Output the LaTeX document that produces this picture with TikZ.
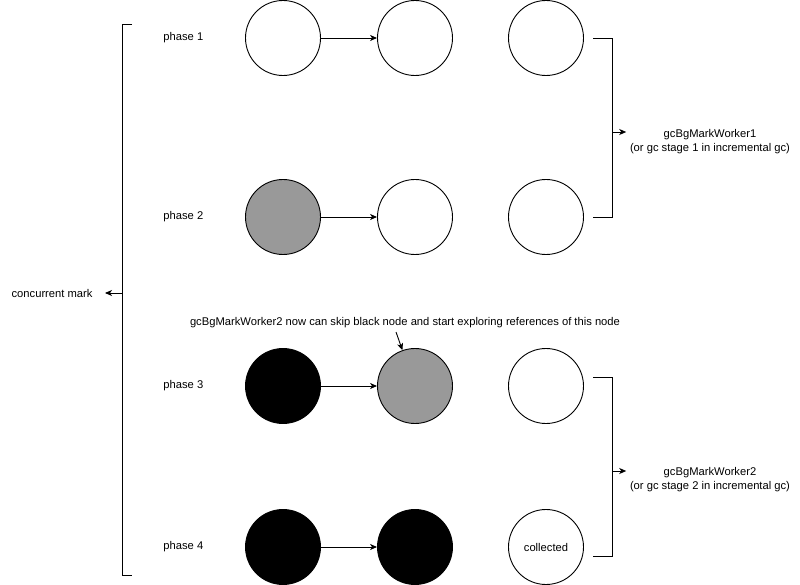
\documentclass[tikz,border=0pt]{standalone}
\usepackage{fontspec}
\setmainfont{Liberation Sans}
\usetikzlibrary{arrows.meta}
\definecolor{greyobj}{RGB}{153,153,153}

\begin{document}
\begin{tikzpicture}[
		x=1pt, y=-1pt, >={Stealth[length=7pt, width=6pt, inset=2pt]}, line width=0.9pt,
		every node/.style={font=\fontsize{11.2}{14}\selectfont},
		obj/.style={circle, draw, minimum size=75pt, inner sep=0pt},
		greyobj/.style={obj, fill=greyobj},
		blackobj/.style={obj, fill=black},
		phase/.style={anchor=west, inner sep=0pt}
	]
  \useasboundingbox (0,0) rectangle (800,585);
  % phases
  \node (ph1) [phase] at (163, 38) {phase 1};
  \node (ph2) [phase] at (163, 217) {phase 2};
  \node (ph3) [phase] at (163, 386) {phase 3};
  \node (ph4) [phase] at (163, 547) {phase 4};
  \node (p1a) [obj] at (283, 38) {};
  \node (p1b) [obj] at (415, 38) {};
  \node (p1c) [obj] at (546, 38) {};
  \node (p2a) [greyobj] at (283, 217) {};
  \node (p2b) [obj] at (415, 217) {};
  \node (p2c) [obj] at (546, 217) {};
  \node (p3a) [blackobj] at (283, 386) {};
  \node (p3b) [greyobj] at (415, 386) {};
  \node (p3c) [obj] at (546, 386) {};
  \node (p4a) [blackobj] at (283, 547) {};
  \node (p4b) [blackobj] at (415, 547) {};
  \node (p4c) [obj] at (546, 547) {collected};
  \draw[->] (p1a) -- (p1b);
  \draw[->] (p2a) -- (p2b);
  \draw[->] (p3a) -- (p3b);
  \draw[->] (p4a) -- (p4b);
  % note
  \node (note) at (405, 323) {gcBgMarkWorker2 now can skip black node and start exploring references of this node};
  \draw[->] ([xshift=-9pt]note.south) -- (p3b);
  % brackets
  \node (conc) [anchor=east, inner sep=0pt] at (93, 293) {concurrent mark};
  \coordinate (conctip) at (105, 293);
  \coordinate (concmid) at (122.5, 293);
  \draw (132, 24) -- (122.5, 24) -- (122.5, 575) -- (132, 575);
  \draw[->] (concmid) -- (conctip);
  \node (wk1) [align=center] at (710, 142) {gcBgMarkWorker1\\(or gc stage 1 in incremental gc)};
  \node (wk2) [align=center] at (710, 480) {gcBgMarkWorker2\\(or gc stage 2 in incremental gc)};
  \coordinate (brk1) at (612, 132);
  \coordinate (brk2) at (612, 471);
  \draw (593, 38) -- (612, 38) -- (612, 217) -- (593, 217);
  \draw (593, 377) -- (612, 377) -- (612, 556) -- (593, 556);
  \draw[->] (brk1) -- (brk1 -| wk1.west);
  \draw[->] (brk2) -- (brk2 -| wk2.west);
\end{tikzpicture}
\end{document}
